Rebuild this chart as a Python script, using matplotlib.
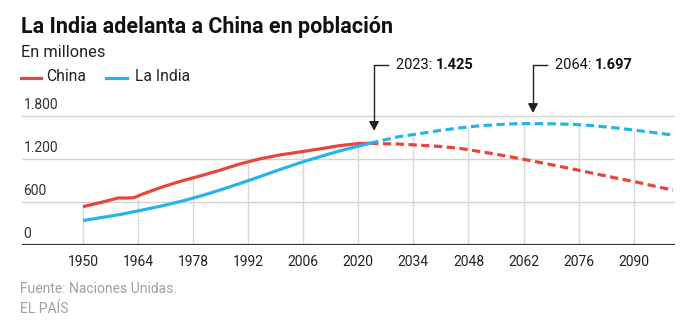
import matplotlib
matplotlib.use("Agg")
import matplotlib.pyplot as plt
import numpy as np

# ---- data (millions) ----
china_hist_years = [1950, 1955, 1959, 1961, 1963, 1965, 1970, 1975, 1980, 1985, 1990,
                    1995, 2000, 2005, 2010, 2015, 2020, 2023]
china_hist = [540, 605, 662, 660, 666, 712, 812, 898, 972, 1052, 1138,
              1208, 1262, 1303, 1345, 1390, 1422, 1425]
china_proj_years = [2023, 2025, 2030, 2035, 2040, 2045, 2050, 2055, 2060, 2065, 2070,
                    2075, 2080, 2085, 2090, 2095, 2100]
china_proj = [1425, 1420, 1415, 1400, 1384, 1360, 1318, 1272, 1222, 1170, 1116,
              1060, 1002, 945, 892, 830, 770]

india_hist_years = [1950, 1955, 1960, 1965, 1970, 1975, 1980, 1985, 1990, 1995, 2000,
                    2005, 2010, 2015, 2020, 2023]
india_hist = [346, 390, 436, 492, 550, 615, 690, 775, 865, 960, 1057,
              1150, 1234, 1315, 1385, 1425]
india_proj_years = [2023, 2030, 2035, 2040, 2045, 2050, 2055, 2060, 2064, 2070, 2075,
                    2080, 2085, 2090, 2095, 2100]
india_proj = [1425, 1515, 1555, 1598, 1635, 1665, 1685, 1698, 1700, 1697, 1688,
              1670, 1642, 1610, 1575, 1540]

x_ticks = [1950, 1964, 1978, 1992, 2006, 2020, 2034, 2048, 2062, 2076, 2090]
y_ticks = [0, 600, 1200, 1800]
y_tick_labels = ["0", "600", "1.200", "1.800"]

title = "La India adelanta a China en población"
subtitle = "En millones"
series_names = ["China", "La India"]
ann1_label, ann1_value = "2023: ", "1.425"
ann2_label, ann2_value = "2064: ", "1.697"
source = "Fuente: Naciones Unidas."
brand = "EL PAÍS"

RED = "#e8453c"
BLUE = "#27b5e8"
FONT = "Roboto"
LW = 2.3
DASH = (0, (2.6, 1.4))

W, H = 690, 329
fig = plt.figure(figsize=(W / 100, H / 100), dpi=100)

def fx(px):
    return px / W

def fy(py):
    return 1 - py / H

ax_left, ax_right, ax_top, ax_bottom = 22, 675, 110, 245.3
ax = fig.add_axes([fx(ax_left), fy(ax_bottom), (ax_right - ax_left) / W, (ax_bottom - ax_top) / H])
ax.set_xlim(1934.5, 2100.5)
ax.set_ylim(0, 1890)
for s in ax.spines.values():
    s.set_visible(False)
ax.set_yticks([])
ax.set_xticks(x_ticks)
ax.set_xticklabels([str(t) for t in x_ticks], fontsize=10, family=FONT, color="#222222")
ax.tick_params(axis="x", length=0, pad=7)

# horizontal grid lines
for v in y_ticks[1:]:
    ax.axhline(v, color="#d2d2d2", lw=1, zorder=1)
ax.axhline(0, color="#333333", lw=1.6, zorder=3)

# vertical grid lines up to the data
all_cy = np.array(china_hist_years[:-1] + china_proj_years)
all_c = np.array(china_hist[:-1] + china_proj)
all_iy = np.array(india_hist_years[:-1] + india_proj_years)
all_i = np.array(india_hist[:-1] + india_proj)
for t in x_ticks:
    top = max(np.interp(t, all_cy, all_c), np.interp(t, all_iy, all_i))
    ax.plot([t, t], [0, top], color="#d9d9d9", lw=1, zorder=1)

# y tick labels above grid lines
for v, lab in zip(y_ticks, y_tick_labels):
    ax.annotate(lab, xy=(0, v), xycoords=("axes fraction", "data"), xytext=(1, 3),
                textcoords="offset points", ha="left", va="bottom", fontsize=10,
                family=FONT, color="#333333")

# lines
ax.plot(china_hist_years, china_hist, color=RED, lw=LW, zorder=4, solid_capstyle="butt")
ax.plot(china_proj_years, china_proj, color=RED, lw=LW, ls=DASH, zorder=4)
ax.plot(india_hist_years, india_hist, color=BLUE, lw=LW, zorder=5, solid_capstyle="butt")
ax.plot(india_proj_years, india_proj, color=BLUE, lw=LW, ls=DASH, zorder=5)

# annotations (elbow arrows)
def add_arrow(x_year, tip_val, label, value):
    inv = ax.transData.inverted()
    x_px = ax.transData.transform((x_year, 0))[0]
    elbow_val = inv.transform((0, H - 65))[1]
    end_year = inv.transform((x_px + 14, 0))[0]
    ax.plot([end_year, x_year, x_year], [elbow_val, elbow_val, tip_val + 40],
            color="#222222", lw=1, clip_on=False, zorder=6)
    ax.annotate("", xy=(x_year, tip_val), xytext=(x_year, tip_val + 120),
                arrowprops=dict(arrowstyle="-|>,head_length=0.55,head_width=0.3",
                                color="#222222", lw=1, shrinkA=0, shrinkB=0),
                annotation_clip=False, zorder=6)
    t1 = fig.text(fx(x_px + 22), fy(65), label, fontsize=10.5, family=FONT,
                  ha="left", va="center", color="#111111")
    fig.canvas.draw()
    bb = t1.get_window_extent()
    fig.text(bb.x1 / W, fy(65), value, fontsize=10.5, family=FONT, fontweight="bold",
             ha="left", va="center", color="#111111")

fig.canvas.draw()
add_arrow(2024, 1600, ann1_label, ann1_value)
add_arrow(2064.4, 1850, ann2_label, ann2_value)

# title etc.
fig.text(fx(21), fy(33), title, fontsize=15.5, fontweight="bold", family=FONT,
         ha="left", va="baseline", color="#111111")
fig.text(fx(21), fy(56.7), subtitle, fontsize=11.8, family=FONT,
         ha="left", va="baseline", color="#222222")

# legend
fig.add_artist(plt.Line2D([fx(20.5), fx(41)], [fy(78), fy(78)], color=RED, lw=LW))
fig.text(fx(46.5), fy(81), series_names[0], fontsize=11.3, family=FONT,
         ha="left", va="baseline", color="#222222")
fig.add_artist(plt.Line2D([fx(106), fx(127)], [fy(78), fy(78)], color=BLUE, lw=LW))
fig.text(fx(135), fy(81), series_names[1], fontsize=11.3, family=FONT,
         ha="left", va="baseline", color="#222222")

# footer
fig.text(fx(20), fy(293.3), source, fontsize=10, family=FONT,
         ha="left", va="baseline", color="#a0a0a0")
fig.text(fx(20), fy(312.7), brand, fontsize=10, family=FONT,
         ha="left", va="baseline", color="#a0a0a0")

fig.savefig("out.png", dpi=100)
